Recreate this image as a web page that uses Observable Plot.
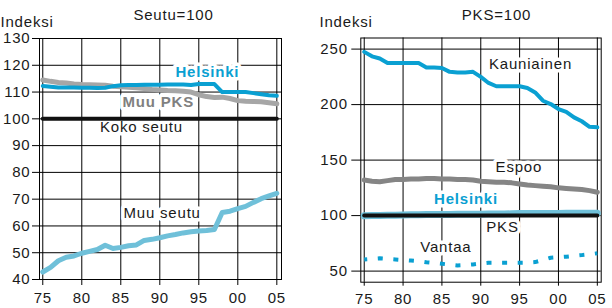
<!DOCTYPE html>
<html><head><meta charset="utf-8">
<script src="https://cdn.jsdelivr.net/npm/d3@7"></script>
<script src="https://cdn.jsdelivr.net/npm/@observablehq/plot@0.6"></script>
<style>
body{margin:0;background:#fff;}
#wrap{display:flex;width:612px;height:308px;}
</style></head><body>
<div id="wrap"></div>
<script>
// ---- data ----
const years = d3.range(1975, 2006);
const xTicks = [1975, 1980, 1985, 1990, 1995, 2000, 2005];
const yTicksLeft = [40, 50, 60, 70, 80, 90, 100, 110, 120, 130];
const yTicksRight = [50, 100, 150, 200, 250];

// Left panel: Seutu = 100
const helsinkiSeutu = [112.3,112.0,111.7,111.7,111.7,111.6,111.6,111.5,111.6,112.2,112.5,112.6,112.6,112.7,112.7,112.7,112.8,112.8,112.8,112.6,113.0,113.0,113.0,110.0,110.0,110.0,110.0,109.6,109.2,108.8,108.6];
const muuPKS = [114.5,114.0,113.6,113.4,113.0,112.8,112.7,112.6,112.5,112.2,112.0,111.8,111.6,111.3,111.0,110.8,110.6,110.5,110.3,110.0,109.0,108.3,108.0,108.1,107.6,106.8,106.6,106.5,106.4,106.0,105.6];
const kokoSeutu = years.map(() => 100);
const muuSeutu = [42.8,44.5,47.0,48.3,48.8,49.8,50.5,51.2,52.8,51.6,52.0,52.6,52.9,54.6,55.0,55.6,56.3,56.8,57.4,57.8,58.1,58.3,58.7,65.0,65.5,66.5,67.3,68.8,70.2,71.2,72.2];

// Right panel: PKS = 100
const kauniainen = [247.5,243.5,241.5,237.5,237.5,237.5,237.5,237.5,233.5,233.5,233.0,229.5,229.0,229.0,229.5,225.0,219.5,216.5,216.5,216.5,216.5,215.0,211.0,203.5,200.5,196.0,193.5,188.5,185.0,180.0,179.5];
const espoo = [132,131,130.5,131.5,132.5,132.5,133,133,133.5,133.5,133,133,132.5,132.5,132,131,130.5,130,130,129.5,128.5,127.5,127,126.5,126,125,124.5,124,123.5,122.5,121];
const helsinkiPKS = [99.8,100.0,100.2,100.3,100.4,100.5,100.7,100.8,100.9,101.0,101.0,101.1,101.2,101.2,101.2,101.3,101.4,101.4,101.5,101.6,101.8,101.9,101.9,101.9,102.0,102.0,102.1,102.1,102.1,102.2,102.2];
const pks = years.map(() => 100);
const vantaa = [60.5,61,61.5,61,60.5,60,59.5,59,58,57.3,56.6,55.8,55.1,55.4,56,56.8,57.5,57.5,57.5,57.5,57.5,57.6,58.1,60,62,62.5,63,63.7,64.4,65.2,66];

// labels (data coordinates)
const labelsLeft = [
  {x: 1996.1, y: 117.6, text: "Helsinki", kind: "blue"},
  {x: 1989.8, y: 106.4, text: "Muu PKS", kind: "gray"},
  {x: 1987.65, y: 96.7, text: "Koko seutu", kind: "plain"},
  {x: 1990.3, y: 64.65, text: "Muu seutu", kind: "plain"}
];
const labelsRight = [
  {x: 1996.4, y: 236.8, text: "Kauniainen", kind: "plain"},
  {x: 1994.9, y: 143.6, text: "Espoo", kind: "plain"},
  {x: 1988.1, y: 114.5, text: "Helsinki", kind: "blue"},
  {x: 1992.8, y: 89.4, text: "PKS", kind: "plain"},
  {x: 1985.5, y: 71.4, text: "Vantaa", kind: "plain"}
];

// ---- styles ----
const BLUE = "#0aa0d2", LIGHT = "#6fc0d9", GRAY1 = "#a6a6a6", GRAY2 = "#858585", INK = "#1a1a1a";
const fmt = d => String(d % 100).padStart(2, "0");
const series = arr => years.map((yr, i) => ({year: yr, v: arr[i]}));
const textFill = k => k === "blue" ? BLUE : k === "gray" ? "#808080" : INK;
const textWeight = k => k === "plain" ? "normal" : "bold";
const style = {fontFamily: "'Liberation Sans', Arial, sans-serif", fontSize: "15px", color: INK, background: "white", letterSpacing: "0.8px"};

function labelMarks(labels) {
  return ["plain", "blue", "gray"].map(k => Plot.text(labels.filter(d => d.kind === k), {
    x: "x", y: "y", text: "text", fill: textFill(k), fontWeight: textWeight(k),
    fontSize: 15, stroke: "white", strokeWidth: 7, paintOrder: "stroke", textAnchor: "middle"
  }));
}

const left = Plot.plot({
  width: 306, height: 308,
  marginLeft: 39, marginRight: 25, marginTop: 38, marginBottom: 29,
  x: {domain: [1974.58, 2005.6]},
  y: {domain: [40, 130]},
  style,
  marks: [
    Plot.gridX(xTicks, {stroke: "#000", strokeOpacity: 1}),
    Plot.gridY(yTicksLeft, {stroke: "#000", strokeOpacity: 1}),
    Plot.frame({stroke: "#000"}),
    Plot.axisX(xTicks, {tickSize: 6, tickPadding: 7, tickFormat: fmt, label: null, fontSize: 15, stroke: "#000"}),
    Plot.axisY(yTicksLeft, {tickSize: 7, tickPadding: 2, label: null, fontSize: 15, stroke: "#000"}),
    ...labelMarks(labelsLeft),
    Plot.line(series(muuSeutu), {x: "year", y: "v", stroke: LIGHT, strokeWidth: 5}),
    Plot.line(series(kokoSeutu), {x: "year", y: "v", stroke: "#111", strokeWidth: 4}),
    Plot.line(series(muuPKS), {x: "year", y: "v", stroke: GRAY1, strokeWidth: 5}),
    Plot.line(series(helsinkiSeutu), {x: "year", y: "v", stroke: BLUE, strokeWidth: 4}),
    Plot.text(["Seutu=100"], {text: d => d, frameAnchor: "top", dx: 13, dy: -29.5, fill: INK}),
    Plot.text(["Indeksi"], {text: d => d, frameAnchor: "top-left", textAnchor: "start", dx: -39, dy: -22, fill: INK})
  ]
});

const right = Plot.plot({
  width: 306, height: 308,
  marginLeft: 54.3, marginRight: 11.3, marginTop: 37.5, marginBottom: 26.3,
  x: {domain: [1974.56, 2005.5]},
  y: {domain: [40, 260]},
  style,
  marks: [
    Plot.gridX(xTicks, {stroke: "#000", strokeOpacity: 1}),
    Plot.gridY(yTicksRight, {stroke: "#000", strokeOpacity: 1}),
    Plot.frame({stroke: "#000"}),
    Plot.axisX(xTicks, {tickSize: 4, tickPadding: 7, tickFormat: fmt, label: null, fontSize: 15, stroke: "#000"}),
    Plot.axisY(yTicksRight, {tickSize: 9, tickPadding: 4, label: null, fontSize: 15, stroke: "#000"}),
    ...labelMarks(labelsRight),
    Plot.line(series(kauniainen), {x: "year", y: "v", stroke: BLUE, strokeWidth: 4}),
    Plot.line(series(espoo), {x: "year", y: "v", stroke: GRAY2, strokeWidth: 5}),
    Plot.line(series(helsinkiPKS), {x: "year", y: "v", stroke: LIGHT, strokeWidth: 7}),
    Plot.line(series(pks), {x: "year", y: "v", stroke: "#111", strokeWidth: 4}),
    Plot.line(series(vantaa), {x: "year", y: "v", stroke: BLUE, strokeWidth: 4, strokeDasharray: "5,10.6", strokeDashoffset: 2, strokeLinecap: "butt"}),
    Plot.text(["PKS=100"], {text: d => d, frameAnchor: "top", dx: 15.5, dy: -28.7, fill: INK}),
    Plot.text(["Indeksi"], {text: d => d, frameAnchor: "top-left", textAnchor: "start", dx: -41.3, dy: -21.3, fill: INK})
  ]
});

document.getElementById("wrap").append(left, right);
</script>
</body></html>
